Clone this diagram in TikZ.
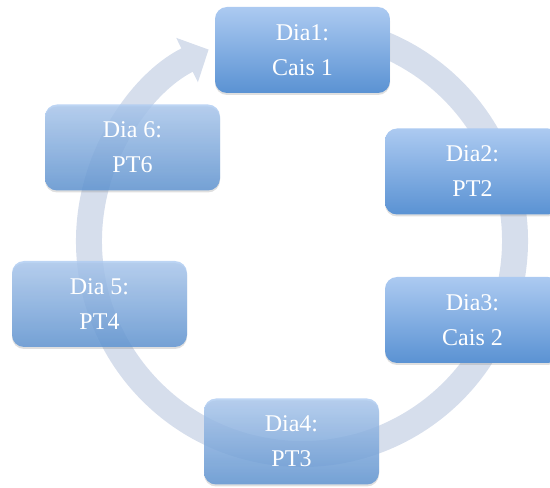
\documentclass[tikz,border=0pt]{standalone}
\usepackage{fontspec}
\setmainfont{Liberation Serif}
\usepackage{tikz}
\usetikzlibrary{arrows.meta,shadows}

\definecolor{boxtop}{RGB}{172,202,241}
\definecolor{boxbottom}{RGB}{90,146,211}
\definecolor{ringcol}{RGB}{214,222,236}

\begin{document}
\begin{tikzpicture}[x=1pt,y=1pt,
        daybox/.style={rounded corners=12pt, minimum width=175pt, minimum height=86pt,
            top color=boxtop, bottom color=boxbottom, text=white, align=center,
            font=\fontsize{24}{35}\selectfont,
            drop shadow={opacity=0.25, shadow xshift=0pt, shadow yshift=-2pt}},
        faded/.style={fill opacity=0.8, text opacity=1}]
    \useasboundingbox (0, 0) rectangle (550, 488);

    % Ring, ending in the arrow into day 1
    \coordinate (hub) at (302, 247);
    \draw[line width=26pt, ringcol, -{Triangle[width=48pt, length=24pt]}]
        (hub) ++(80:213) arc (80:-244:213);

    % Days on the right (solid)
    \node[daybox] (d1) at (302.5, 438) {Dia1:\\Cais 1};
    \node[daybox] (d2) at (472.5, 316.5) {Dia2:\\PT2};
    \node[daybox] (d3) at (472.5, 168) {Dia3:\\Cais 2};

    % Days on the left (faded)
    \node[daybox, faded] (d4) at (291.5, 46.5) {Dia4:\\PT3};
    \node[daybox, faded] (d5) at (99.5, 184) {Dia 5:\\PT4};
    \node[daybox, faded] (d6) at (132.5, 340.5) {Dia 6:\\PT6};
\end{tikzpicture}
\end{document}
